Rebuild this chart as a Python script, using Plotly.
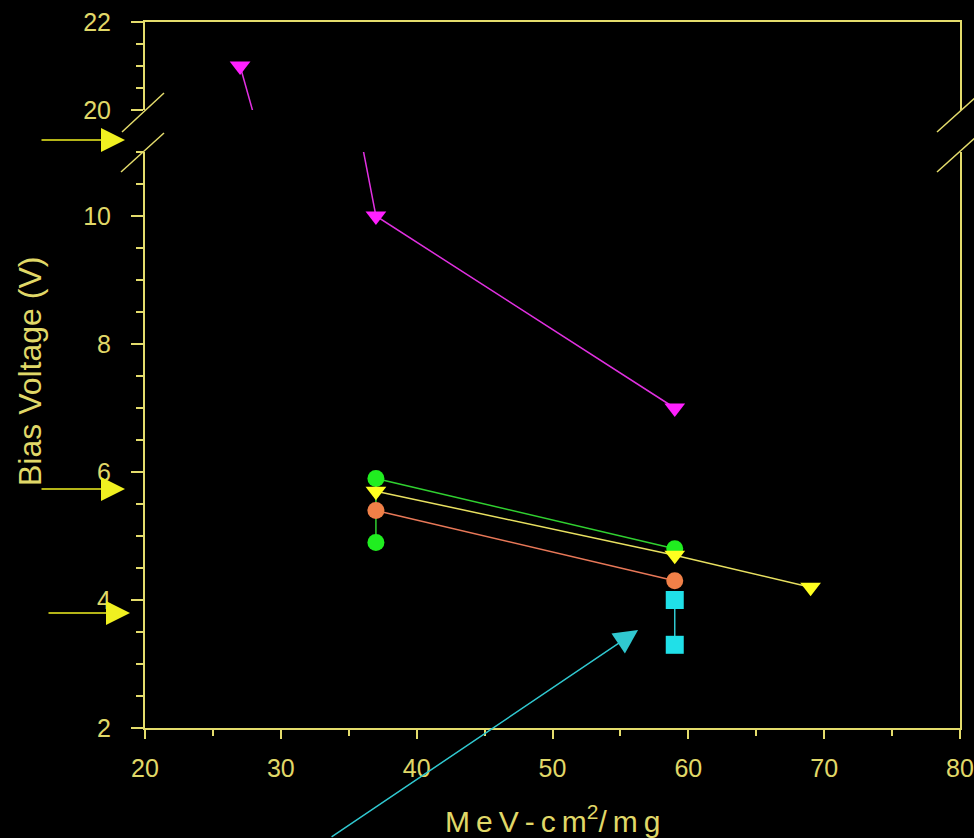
import plotly.graph_objects as go

# ---- data ----
magenta_x = [27, 37, 59]
magenta_y = [21, 10, 7]
green_x = [37, 37, 59]
green_y = [4.9, 5.9, 4.8]
yellow_x = [37, 59, 69]
yellow_y = [5.7, 4.7, 4.2]
orange_x = [37, 59]
orange_y = [5.4, 4.3]
cyan_x = [59, 59]
cyan_y = [4.0, 3.3]

x_ticks = [20, 30, 40, 50, 60, 70, 80]
y_low_ticks = [2, 4, 6, 8, 10]
y_high_ticks = [20, 22]

AX = "#e4dc6c"
TXT = "#e0d868"
FONT = "Liberation Sans"

W, H = 974, 838
L, R, T, B = 145, 14, 22, 110
PW, PH = W - L - R, H - T - B


def px(x):
    return (x - L) / PW


def py(y):
    return (H - B - y) / PH


low_dom = [0, py(152)]
up_dom = [py(110), 1]

series = [
    (magenta_x, magenta_y, "#ff20ff", "#e030e0", "triangle-down", 18),
    (green_x, green_y, "#20ee20", "#30d030", "circle", 17),
    (yellow_x, yellow_y, "#ffff20", "#e8e060", "triangle-down", 18),
    (orange_x, orange_y, "#f08048", "#e87858", "circle", 17),
    (cyan_x, cyan_y, "#20e0e8", "#30c8d0", "square", 18),
]

fig = go.Figure()
for xa, ya in [("x", "y"), ("x2", "y2")]:
    for xs, ys, mc, lc, sym, sz in series:
        fig.add_trace(go.Scatter(
            x=xs, y=ys, mode="lines+markers", xaxis=xa, yaxis=ya,
            line=dict(color=lc, width=1.5),
            marker=dict(color=mc, symbol=sym, size=sz, line=dict(width=0)),
            showlegend=False, hoverinfo="skip"))

tickfont = dict(family=FONT, size=25, color=TXT)

fig.update_layout(
    width=W, height=H, margin=dict(l=L, r=R, t=T, b=B, autoexpand=False),
    paper_bgcolor="black", plot_bgcolor="black", showlegend=False,
    xaxis=dict(domain=[0, 1], range=[20, 80], anchor="y", automargin=False,
               showline=True, linecolor=AX, linewidth=2, mirror=False,
               showgrid=False, zeroline=False,
               tickmode="array", tickvals=x_ticks, ticks="outside",
               ticklen=9, tickwidth=2, tickcolor=AX,
               minor=dict(dtick=5, tick0=20, ticks="outside", ticklen=6, tickwidth=2, tickcolor=AX),
               tickfont=tickfont, ticklabelstandoff=8),
    yaxis=dict(domain=low_dom, range=[2, 11], anchor="x", automargin=False,
               showline=True, linecolor=AX, linewidth=2, mirror=True,
               showgrid=False, zeroline=False,
               tickmode="array", tickvals=y_low_ticks, ticks="outside",
               ticklen=12, tickwidth=2, tickcolor=AX,
               minor=dict(dtick=0.5, tick0=2, ticks="outside", ticklen=7, tickwidth=2, tickcolor=AX),
               tickfont=tickfont, ticklabelstandoff=15),
    xaxis2=dict(domain=[0, 1], range=[20, 80], anchor="y2", side="top", automargin=False,
                showline=True, linecolor=AX, linewidth=2,
                showgrid=False, zeroline=False, showticklabels=False, ticks=""),
    yaxis2=dict(domain=up_dom, range=[20, 22], anchor="x2", automargin=False,
                showline=True, linecolor=AX, linewidth=2, mirror=True,
                showgrid=False, zeroline=False,
                tickmode="array", tickvals=y_high_ticks, ticks="outside",
                ticklen=12, tickwidth=2, tickcolor=AX,
                minor=dict(dtick=0.5, tick0=20, ticks="outside", ticklen=7, tickwidth=2, tickcolor=AX),
                tickfont=tickfont, ticklabelstandoff=15),
)

# axis break marks
shapes = []
for (x0, y0, x1, y1) in [(122, 132, 164, 93), (121, 172, 164, 133),
                         (937, 132, 976, 97), (937, 172, 976, 137)]:
    shapes.append(dict(type="line", xref="paper", yref="paper",
                       x0=px(x0), y0=py(y0), x1=px(x1), y1=py(y1),
                       line=dict(color=AX, width=1.5)))
fig.update_layout(shapes=shapes)

# titles
fig.add_annotation(text="Bias Voltage (V)", xref="paper", yref="paper",
                   x=px(30), y=py(372), xanchor="center", yanchor="middle",
                   textangle=-90, showarrow=False,
                   font=dict(family=FONT, size=32, color=TXT))
fig.add_annotation(text="\u2009".join("MeV-cm") + "<sup>2</sup>" + "\u2009".join("/mg"),
                   xref="paper", yref="paper",
                   x=px(552), y=py(819), xanchor="center", yanchor="middle",
                   showarrow=False,
                   font=dict(family=FONT, size=30, color=TXT))

# yellow indicator arrows
for tipx, tailx, yy in [(125, 40, 140), (125, 40, 489), (130, 47, 613)]:
    fig.add_annotation(x=px(tipx), y=py(yy), xref="paper", yref="paper",
                       ax=tailx - tipx, ay=0, axref="pixel", ayref="pixel",
                       showarrow=True, arrowhead=2, arrowsize=3.0, arrowwidth=1.6,
                       arrowcolor="#f0f020", text="", standoff=0)

# cyan arrow
fig.add_annotation(x=56.3, y=3.53, xref="x", yref="y",
                   ax=-308, ay=208, axref="pixel", ayref="pixel",
                   showarrow=True, arrowhead=2, arrowsize=3.2, arrowwidth=1.5,
                   arrowcolor="#30c8d0", text="", standoff=0)

fig.write_html("out.html")
